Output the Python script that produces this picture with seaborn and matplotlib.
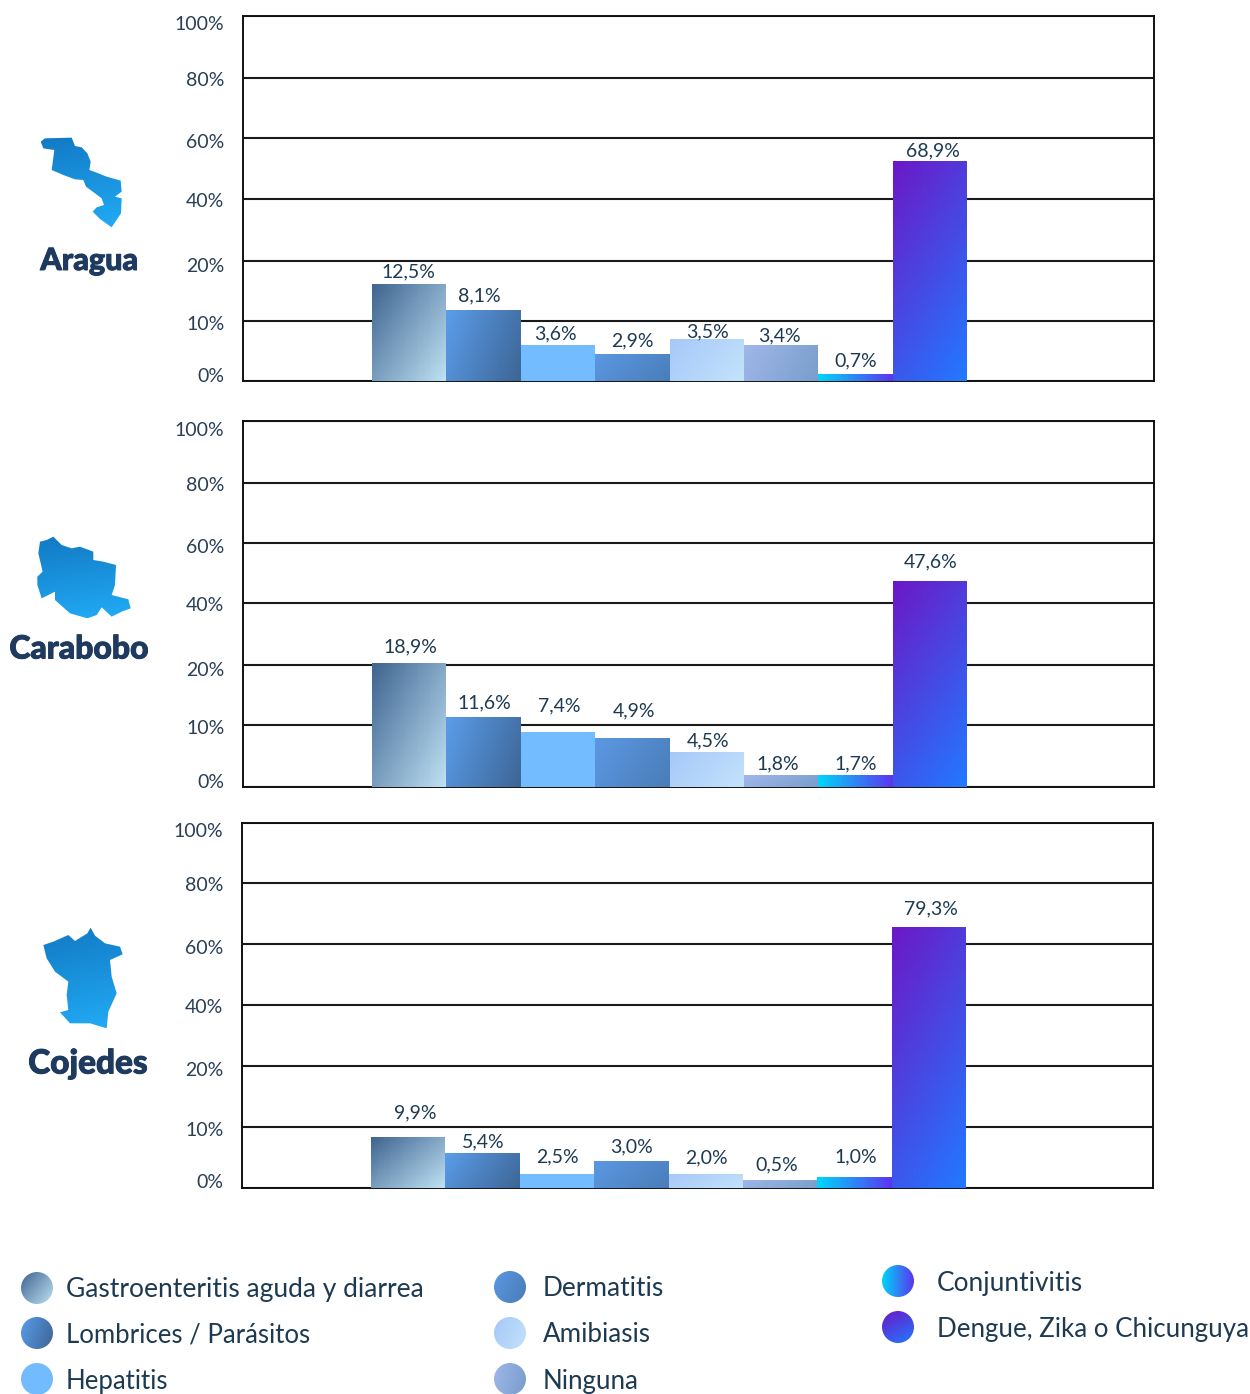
import numpy as np
import pandas as pd
import matplotlib
matplotlib.use("Agg")
import matplotlib.pyplot as plt
import matplotlib.patheffects as pe
import seaborn as sns
from matplotlib.colors import LinearSegmentedColormap
from matplotlib.patches import Polygon, Circle
from matplotlib.transforms import ScaledTranslation

sns.set_theme(style="white")
plt.rcParams["font.family"] = ["Lato", "DejaVu Sans"]

W, H = 1250, 1394
TEXT = "#1d3a52"
NAVY = "#1f3a5f"

diseases = ["Gastroenteritis aguda y diarrea", "Lombrices / Parásitos", "Hepatitis", "Dermatitis",
            "Amibiasis", "Ninguna", "Conjuntivitis", "Dengue, Zika o Chicunguya"]
states = ["Aragua", "Carabobo", "Cojedes"]

# bar tops as they read on the drawn axis
aragua_bars = [16.2, 11.8, 6.0, 4.5, 7.0, 6.0, 1.2, 52.5]
carabobo_bars = [20.5, 11.3, 8.9, 7.9, 5.65, 1.9, 1.9, 47.3]
cojedes_bars = [8.4, 5.7, 2.3, 4.4, 2.3, 1.3, 1.8, 65.6]
# printed labels
aragua_labels = ["12,5%", "8,1%", "3,6%", "2,9%", "3,5%", "3,4%", "0,7%", "68,9%"]
carabobo_labels = ["18,9%", "11,6%", "7,4%", "4,9%", "4,5%", "1,8%", "1,7%", "47,6%"]
cojedes_labels = ["9,9%", "5,4%", "2,5%", "3,0%", "2,0%", "0,5%", "1,0%", "79,3%"]

y_ticks = [0, 10, 20, 40, 60, 80, 100]
y_tick_labels = ["0%", "10%", "20%", "40%", "60%", "80%", "100%"]

# layout / style
panel_boxes = [(243, 16, 1154, 381), (243, 421, 1154, 787), (242, 823, 1153, 1188)]
# rise of each gridline above the panel floor, in pixels (the axis is stepped, 10/20/40/... evenly spaced)
grid_rise = [[0, 60, 120, 182, 243, 303, 365], [0, 62, 122, 184, 244, 304, 366], [0, 61, 122, 183, 244, 305, 365]]
tick_nudges = [-6.5, 1.5, 3.5, 1, 3, 0.8, 7.5]
label_dx = [[-1, -4, -2, 0, 1, -2, 0, 3], [1, 1, 1, 2, 1, -3, 0, 1], [7, 1, 1, 0, 1, -3, 1, 2]]
label_dy = [[12, 14.5, 11.5, 13.5, 7.5, 9.5, 12.5, 10], [17, 14.5, 25.5, 27.5, 11.5, 11.5, 11.5, 19.5],
            [24, 11.5, 17.5, 14.5, 16.5, 15.5, 20.5, 18.5]]
gradients = [("#3f6591", "#bde0f2", 0.55, 0.45), ("#5a9ce8", "#3d6596", 0.75, 0.25), ("#72bcff", "#72bcff", 1, 0),
             ("#5b97e2", "#4a7db8", 0.7, 0.3), ("#a6c8f8", "#c2e2fb", 0.7, 0.3), ("#9fb6e8", "#789ecb", 0.8, 0.2),
             ("#00d4fa", "#5a36f0", 1, 0), ("#6b18c6", "#2278ff", 0.35, 0.65)]


def cmap_of(c0, c1):
    return LinearSegmentedColormap.from_list("g", [c0, c1])


def make_scale(rise):
    def forward(v):
        return np.interp(v, y_ticks, rise)

    def inverse(v):
        return np.interp(v, rise, y_ticks)

    return forward, inverse


fig = plt.figure(figsize=(W / 100, H / 100), dpi=100, facecolor="white")

bars_by_state = [aragua_bars, carabobo_bars, cojedes_bars]
labels_by_state = [aragua_labels, carabobo_labels, cojedes_labels]

for p, state in enumerate(states):
    l, t, r, b = panel_boxes[p]
    ax = fig.add_axes([l / W, 1 - b / H, (r - l) / W, (b - t) / H])
    df = pd.DataFrame({"disease": diseases, "value": bars_by_state[p]})
    sns.barplot(data=df, x="disease", y="value", hue="disease", order=diseases, hue_order=diseases,
                palette=[g[0] for g in gradients], width=1, legend=False, ax=ax, zorder=3, linewidth=0)
    to_scale, from_scale = make_scale(grid_rise[p])
    ax.set_yscale("function", functions=(to_scale, from_scale))
    ax.set_ylim(0, 100)
    # eight bars of about 74.4 px inside the frame
    ax.set_xlim(-0.5 - 129 / 74.4, 7.5 + 187 / 74.4)
    ax.set_xlabel("")
    ax.set_ylabel("")
    ax.set_xticks([])
    ax.set_yticks(y_ticks, y_tick_labels)
    ax.tick_params(axis="y", length=0, pad=13.5, labelsize=14, labelcolor="#2a3f55")
    ax.yaxis.grid(True, color="#1a1a1a", lw=1.5)
    ax.set_axisbelow(True)
    for s in ax.spines.values():
        s.set_visible(True)
        s.set_color("#111111")
        s.set_linewidth(1.4)
    for lab, nudge in zip(ax.get_yticklabels(), tick_nudges):
        lab.set_transform(lab.get_transform() + ScaledTranslation(0, -nudge / 100, fig.dpi_scale_trans))

    for i, bar in enumerate(ax.patches[:len(diseases)]):
        x0, x1 = bar.get_x(), bar.get_x() + bar.get_width()
        top = bar.get_height()
        c0, c1, wx, wy = gradients[i]
        xe = np.linspace(x0, x1, 41)
        ye = from_scale(np.linspace(0, to_scale(top), 41))
        u = np.linspace(0, 1, 40)
        U, V = np.meshgrid(u, u)
        T = wx * U + wy * (1 - V)
        ax.pcolormesh(xe, ye, T, cmap=cmap_of(c0, c1), vmin=0, vmax=1, zorder=4, shading="flat",
                      edgecolors="none", antialiased=False, rasterized=True)
        ax.annotate(labels_by_state[p][i], (bar.get_x() + bar.get_width() / 2, top),
                    xytext=(label_dx[p][i] * 0.72, label_dy[p][i] * 0.72), textcoords="offset points",
                    ha="center", va="center", fontsize=14, color=TEXT, zorder=6)

# overlay in pixel coordinates for maps and the key
ov = fig.add_axes([0, 0, 1, 1], zorder=10)
ov.patch.set_alpha(0)
ov.axis("off")


def grad_shape(patch, extent, c0, c1, wx, wy):
    x0, x1, y0, y1 = extent
    u = np.linspace(0, 1, 64)
    U, V = np.meshgrid(u, u)
    im = ov.imshow(wx * U + wy * V, extent=(x0, x1, y1, y0), origin="upper", aspect="auto",
                   cmap=cmap_of(c0, c1), vmin=0, vmax=1, interpolation="bilinear")
    ov.add_patch(patch)
    patch.set_facecolor("none")
    patch.set_edgecolor("none")
    im.set_clip_path(patch)


aragua_shape = [(122, 65), (135, 55), (215, 53), (225, 78), (245, 82), (262, 100), (272, 125), (268, 150), (290, 158),
                (320, 170), (362, 182), (365, 215), (345, 230), (365, 235), (363, 280), (335, 322), (300, 297),
                (278, 275), (290, 262), (312, 255), (305, 235), (285, 220), (258, 200), (250, 180), (225, 178),
                (190, 165), (155, 150), (163, 90), (130, 85)]
carabobo_shape = [(120, 65), (140, 60), (160, 50), (185, 75), (215, 85), (240, 80), (280, 95), (280, 120), (310, 125),
                  (348, 135), (345, 195), (335, 225), (385, 238), (392, 265), (365, 275), (335, 290), (305, 262),
                  (290, 285), (262, 295), (210, 280), (165, 240), (165, 215), (125, 235), (112, 195), (112, 170),
                  (128, 155), (115, 100)]
cojedes_shape = [(130, 90), (160, 80), (205, 60), (225, 78), (262, 55), (272, 38), (285, 62), (315, 85), (360, 95),
                 (368, 118), (330, 135), (335, 185), (350, 235), (325, 290), (320, 340), (270, 325), (210, 325),
                 (180, 292), (205, 285), (200, 240), (205, 200), (165, 170), (140, 130)]
shapes = [(aragua_shape, 120), (carabobo_shape, 520), (cojedes_shape, 915)]
name_xy = [(89, 261), (79, 649), (88, 1064)]
name_sizes = [22, 23, 24]

for (shape, y_off), name, (nx, ny), size in zip(shapes, states, name_xy, name_sizes):
    pts = np.array(shape, dtype=float) / 3 + [0, y_off]
    ext = (pts[:, 0].min(), pts[:, 0].max(), pts[:, 1].min(), pts[:, 1].max())
    grad_shape(Polygon(pts, closed=True, transform=ov.transData), ext, "#1279c4", "#22abf5", 0.15, 0.85)
    ov.text(nx, ny, name, ha="center", va="center", fontsize=size, fontweight="black", color=NAVY,
            path_effects=[pe.withStroke(linewidth=0.7, foreground=NAVY)])

key_xy = [(37, 1288), (37, 1333), (37, 1379), (510, 1287), (510, 1333), (510, 1379), (898, 1281), (898, 1327)]
key_text_x = [66, 66, 66, 543, 543, 543, 937, 937]
key_text_y = [1290, 1335, 1381, 1288.5, 1335, 1381, 1284, 1329]
key_sizes = [19, 18.5, 18.5, 18.9, 18.7, 18.6, 18.9, 18.6]
for i, name in enumerate(diseases):
    cx, cy = key_xy[i]
    c0, c1, wx, wy = gradients[i]
    grad_shape(Circle((cx, cy), 16, transform=ov.transData), (cx - 16, cx + 16, cy - 16, cy + 16), c0, c1, wx, wy)
    ov.text(key_text_x[i], key_text_y[i], name, ha="left", va="center", fontsize=key_sizes[i], color=TEXT)

ov.set_xlim(0, W)
ov.set_ylim(H, 0)

fig.savefig("out.png", dpi=100, facecolor="white")
